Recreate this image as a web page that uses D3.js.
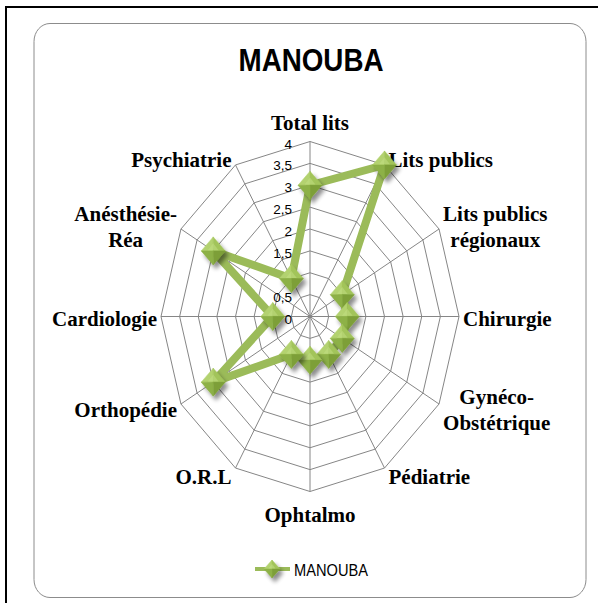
<!DOCTYPE html>
<html>
<head>
<meta charset="utf-8">
<script src="https://cdn.jsdelivr.net/npm/d3@7"></script>
<style>
  body { margin: 0; background: #fff; }
  svg { display: block; }
</style>
</head>
<body>
<div id="chart"></div>
<script>
var width = 598
var height = 603

// data
var categories = ['Total lits', 'Lits publics', 'Lits publics\nrégionaux', 'Chirurgie',
    'Gynéco-\nObstétrique', 'Pédiatrie', 'Ophtalmo', 'O.R.L', 'Orthopédie',
    'Cardiologie', 'Anésthésie-\nRéa', 'Psychiatrie'];
var manoubaValues = [3, 4, 1, 1, 1, 1, 1, 1, 3, 1, 3, 1];
var tickValues = [0, 0.5, 1, 1.5, 2, 2.5, 3, 3.5, 4];
var tickLabels = ['0', '0,5', '1', '1,5', '2', '2,5', '3', '3,5', '4'];
var seriesName = 'MANOUBA';

var cx = 310, cy = 316.5;
var green = '#9bbb59';
var sansFont = '"Liberation Sans", Arial, sans-serif';

var svg = d3.select('#chart')
    .append('svg')
    .attr('width', width)
    .attr('height', height);

// frames
svg.append('rect')
    .attr('x', 6).attr('y', 7)
    .attr('width', 620).attr('height', 620)
    .attr('fill', 'none')
    .attr('stroke', '#000')
    .attr('stroke-width', 2);
svg.append('rect')
    .attr('x', 34).attr('y', 23.5)
    .attr('width', 552).attr('height', 574)
    .attr('rx', 16).attr('ry', 18)
    .attr('fill', '#fff')
    .attr('stroke', '#8c8c8c')
    .attr('stroke-width', 1);

var defs = svg.append('defs');
var shadow = defs.append('filter').attr('id', 'shadow')
    .attr('x', '-50%').attr('y', '-50%').attr('width', '200%').attr('height', '200%');
shadow.append('feGaussianBlur').attr('in', 'SourceAlpha').attr('stdDeviation', 2.2);
shadow.append('feOffset').attr('dx', 3).attr('dy', 4).attr('result', 'b');
shadow.append('feComponentTransfer').append('feFuncA').attr('type', 'linear').attr('slope', 0.45);
var merge = shadow.append('feMerge');
merge.append('feMergeNode');
merge.append('feMergeNode').attr('in', 'SourceGraphic');

// scales (picture is stretched vertically)
var rx = d3.scaleLinear().domain([0, 4]).range([0, 149]);
var ry = d3.scaleLinear().domain([0, 4]).range([0, 175]);
var angle = d3.scaleLinear().domain([0, categories.length]).range([0, 2 * Math.PI]);

function pt(i, v) {
    var a = angle(i);
    return [cx + rx(v) * Math.sin(a), cy - ry(v) * Math.cos(a)];
}

// grid rings
var grid = svg.append('g');
tickValues.slice(1).forEach(function(v) {
    var ring = categories.map(function(c, i) { return pt(i, v); });
    grid.append('path')
        .attr('d', d3.line()(ring) + 'Z')
        .attr('fill', 'none')
        .attr('stroke', '#868686')
        .attr('stroke-width', 1);
});
categories.forEach(function(c, i) {
    var p = pt(i, 4);
    grid.append('line')
        .attr('x1', cx).attr('y1', cy)
        .attr('x2', p[0]).attr('y2', p[1])
        .attr('stroke', '#868686')
        .attr('stroke-width', 1);
});

// tick labels
svg.selectAll('.tick')
    .data(tickValues)
    .enter().append('text')
    .attr('x', cx - 18)
    .attr('y', function(d) { return cy - ry(d) + 7; })
    .attr('text-anchor', 'end')
    .style('font-family', sansFont)
    .style('font-size', '13.5px')
    .attr('fill', '#000')
    .text(function(d, i) { return tickLabels[i]; });

// category labels
categories.forEach(function(c, i) {
    var lines = c.split('\n');
    var a = angle(i);
    var s = Math.sin(a), co = Math.cos(a);
    var v = pt(i, 4);
    var g = svg.append('g');
    var t = g.append('text')
        .attr('text-anchor', 'middle')
        .style('font-family', '"Liberation Serif", "Times New Roman", serif')
        .style('font-weight', 'bold')
        .style('font-size', '21px')
        .attr('fill', '#000');
    lines.forEach(function(l, k) {
        t.append('tspan').attr('x', 0).attr('y', k * 26).text(l);
    });
    var w = d3.max(t.selectAll('tspan').nodes(), function(n) { return n.getComputedTextLength(); });
    var h = lines.length * 26 - 10;
    var bx, by;
    if (Math.abs(s) < 0.1) {
        bx = v[0];
        by = v[1] - co * (13 + h / 2) + 2;
    } else {
        bx = v[0] + Math.sign(s) * (4 + w / 2);
        by = v[1] - co * 8 + 2;
    }
    var firstBase = by - (lines.length - 1) * 13 + 7;
    g.attr('transform', 'translate(' + bx + ',' + firstBase + ')');
});

// series line
var pts = manoubaValues.map(function(v, i) { return pt(i, v); });
svg.append('path')
    .attr('d', d3.line()(pts) + 'Z')
    .attr('fill', 'none')
    .attr('stroke', green)
    .attr('stroke-width', 8)
    .attr('stroke-linejoin', 'miter');

function diamond(g, x, y, hw, hh) {
    var m = g.append('g').attr('transform', 'translate(' + x + ',' + y + ')').attr('filter', 'url(#shadow)');
    var facets = [
        [[0, 0], [-hw, 0], [0, -hh], '#b3d26f'],
        [[0, 0], [0, -hh], [hw, 0], '#a2c45a'],
        [[0, 0], [hw, 0], [0, hh], '#7d9f38'],
        [[0, 0], [0, hh], [-hw, 0], '#8db146']
    ];
    facets.forEach(function(f) {
        m.append('path')
            .attr('d', 'M' + f[0] + 'L' + f[1] + 'L' + f[2] + 'Z')
            .attr('fill', f[3])
            .attr('stroke', f[3])
            .attr('stroke-width', 0.5);
    });
    m.append('path')
        .attr('d', 'M' + (-hw * 0.45) + ',' + (-hh * 0.05) + 'L0,' + (-hh * 0.55) + 'L' + (hw * 0.45) + ',' + (-hh * 0.05) + 'Z')
        .attr('fill', '#c4df86')
        .attr('opacity', 0.5);
}

var markers = svg.append('g');
pts.forEach(function(p) { diamond(markers, p[0], p[1], 12, 14); });

// title
svg.append('text')
    .attr('x', 311)
    .attr('y', 71)
    .attr('text-anchor', 'middle')
    .attr('textLength', 145)
    .attr('lengthAdjust', 'spacingAndGlyphs')
    .style('font-family', sansFont)
    .style('font-weight', 'bold')
    .style('font-size', '32px')
    .text(seriesName);

// legend
var leg = svg.append('g');
leg.append('line')
    .attr('x1', 255).attr('x2', 290)
    .attr('y1', 569).attr('y2', 569)
    .attr('stroke', green)
    .attr('stroke-width', 4);
diamond(leg, 272, 569, 8, 9);
leg.append('text')
    .attr('x', 294)
    .attr('y', 576)
    .attr('textLength', 74)
    .attr('lengthAdjust', 'spacingAndGlyphs')
    .style('font-family', sansFont)
    .style('font-size', '17px')
    .attr('fill', '#000')
    .text(seriesName);
</script>
</body>
</html>
